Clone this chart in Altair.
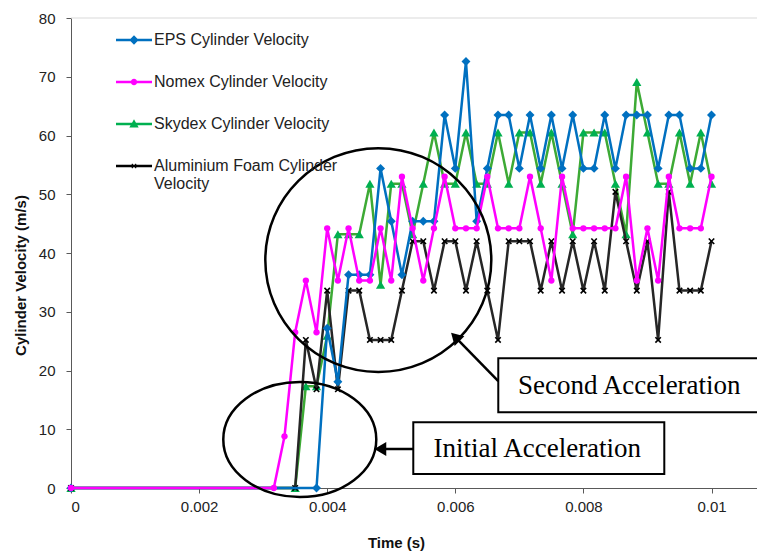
import altair as alt
import pandas as pd

# ---------------- data ----------------
FRAME_DT = 1.0 / 6000.0   # camera frame interval (s)

EPS_FRAMES = [0, 23, 24, 25, 26, 27, 28, 29, 30, 31, 32, 33, 34, 35, 36, 37, 38, 39, 40,
              41, 42, 43, 44, 45, 46, 47, 48, 49, 50, 51, 52, 53, 54, 55, 56, 57, 58, 59, 60]
EPS_V = [0, 0, 27.2, 18.1, 36.3, 36.3, 36.3, 54.4, 45.4, 36.3, 45.4, 45.4, 45.4, 63.5, 54.4,
         72.6, 45.4, 54.4, 63.5, 63.5, 54.4, 63.5, 54.4, 63.5, 54.4, 63.5, 54.4, 54.4, 63.5,
         54.4, 63.5, 63.5, 63.5, 54.4, 63.5, 63.5, 54.4, 54.4, 63.5]

NOMEX_FRAMES = [0, 19, 20, 21, 22, 23, 24, 25, 26, 27, 28, 29, 30, 31, 32, 33, 34, 35, 36, 37,
                38, 39, 40, 41, 42, 43, 44, 45, 46, 47, 48, 49, 50, 51, 52, 53, 54, 55, 56, 57,
                58, 59, 60]
NOMEX_V = [0, 0, 8.8, 26.5, 35.3, 26.5, 44.2, 35.3, 44.2, 35.3, 35.3, 44.2, 35.3, 53.0, 44.2,
           35.3, 44.2, 53.0, 44.2, 44.2, 44.2, 53.0, 44.2, 44.2, 44.2, 53.0, 44.2, 35.3, 53.0,
           44.2, 44.2, 44.2, 44.2, 44.2, 53.0, 35.3, 44.2, 35.3, 53.0, 44.2, 44.2, 44.2, 53.0]

SKYDEX_FRAMES = [0, 21, 22, 23, 24, 25, 26, 27, 28, 29, 30, 31, 32, 33, 34, 35, 36, 37, 38, 39,
                 40, 41, 42, 43, 44, 45, 46, 47, 48, 49, 50, 51, 52, 53, 54, 55, 56, 57, 58, 59, 60]
SKYDEX_V = [0, 0, 17.3, 17.3, 25.9, 43.2, 43.2, 43.2, 51.8, 34.6, 51.8, 51.8, 43.2, 51.8, 60.5,
            51.8, 51.8, 60.5, 51.8, 51.8, 60.5, 51.8, 60.5, 60.5, 51.8, 60.5, 51.8, 43.2, 60.5,
            60.5, 60.5, 51.8, 43.2, 69.1, 60.5, 51.8, 51.8, 60.5, 51.8, 60.5, 51.8]

ALU_FRAMES = [0, 21, 22, 23, 24, 25, 26, 27, 28, 29, 30, 31, 32, 33, 34, 35, 36, 37, 38, 39,
              40, 41, 42, 43, 44, 45, 46, 47, 48, 49, 50, 51, 52, 53, 54, 55, 56, 57, 58, 59, 60]
ALU_V = [0, 0, 25.2, 16.8, 33.6, 16.8, 33.6, 33.6, 25.2, 25.2, 25.2, 33.6, 42.0, 42.0, 33.6,
         42.0, 42.0, 33.6, 42.0, 33.6, 25.2, 42.0, 42.0, 42.0, 33.6, 42.0, 33.6, 42.0, 33.6,
         42.0, 33.6, 50.4, 42.0, 33.6, 42.0, 25.2, 50.4, 33.6, 33.6, 33.6, 42.0]

SERIES = ["EPS Cylinder Velocity", "Nomex Cylinder Velocity",
          "Skydex Cylinder Velocity", "Aluminium Foam Cylinder Velocity"]
LINE_COLORS = ["#0070C0", "#FF00FF", "#3DAA35", "#262626"]
MARK_COLORS = ["#0070C0", "#FF00FF", "#00B050", "#000000"]

X_TICKS = [0, 0.002, 0.004, 0.006, 0.008, 0.01]
Y_TICKS = [0, 10, 20, 30, 40, 50, 60, 70, 80]

# annotations (data coordinates: time, velocity)
ELLIPSE_T = [0.004798, 0.003572]
ELLIPSE_V = [38.8, 8.26]
BOX_T = [0.006671, 0.005344]
BOX_T2 = [0.0112, 0.009263]
BOX_V = [22.1, 11.2]
BOX_V2 = [12.9, 2.4]
BOX_TEXT = ["Second Acceleration", "Initial Acceleration"]
TEXT_T = [0.008716, 0.007280]
TEXT_V = [17.4, 6.6]
ARROW_T = [0.006671, 0.005344]
ARROW_V = [18.2, 6.64]
ARROW_T2 = [0.006000, 0.004829]
ARROW_V2 = [25.7, 6.64]
ARROW_ANGLE = [315, 270]

# ---------------- geometry / styling ----------------
W, H = 686, 470
X_MAX = W / 64050.0
FONT = "Liberation Sans"

def sdf(frames, values, name):
    return pd.DataFrame({"t": [f * FRAME_DT for f in frames], "v": values, "series": name})

dfs = [sdf(EPS_FRAMES, EPS_V, SERIES[0]), sdf(NOMEX_FRAMES, NOMEX_V, SERIES[1]),
       sdf(SKYDEX_FRAMES, SKYDEX_V, SERIES[2]), sdf(ALU_FRAMES, ALU_V, SERIES[3])]

xenc = alt.X("t:Q", scale=alt.Scale(domain=[0, X_MAX], nice=False, zero=False),
             axis=alt.Axis(values=X_TICKS, labelExpr="format(datum.value, '~g')",
                           title="Time (s)", grid=False, tickSize=5, labelPadding=6,
                           domainColor="#595959", tickColor="#595959", labelColor="#222222",
                           labelFont=FONT, labelFontSize=15, titleFont=FONT, titleFontSize=15,
                           titleFontWeight="bold", titleColor="#111111",
                           titleX=325, titleY=54, titleAlign="center", titleBaseline="middle"))
yenc = alt.Y("v:Q", scale=alt.Scale(domain=[0, 80], nice=False),
             axis=alt.Axis(values=Y_TICKS, title="Cylinder Velocity (m/s)", grid=False,
                           tickSize=5, labelPadding=11, domainColor="#595959",
                           tickColor="#595959", labelColor="#222222", labelFont=FONT,
                           labelFontSize=15, titleFont=FONT, titleFontSize=15,
                           titleFontWeight="bold", titleColor="#111111", titleAngle=270,
                           titleX=-51, titleY=257, titleAlign="center", titleBaseline="middle"))

XPATH = "M-1,-1L1,1M-1,1L1,-1"
MARK_SHAPES = ["diamond", "circle", "triangle-up", XPATH]
MARK_SIZES = [80, 40, 85, 30]

# legend symbols: a line segment with the marker in the middle (unit square, 1 unit = 18px)
LEG_PATHS = [
    "M-1,-0.07H1V0.07H-1ZM0,-0.26L0.26,0L0,0.26L-0.26,0Z",
    "M-1,-0.07H1V0.07H-1ZM-0.18,0A0.18,0.18 0 1,1 0.18,0A0.18,0.18 0 1,1 -0.18,0Z",
    "M-1,-0.07H1V0.07H-1ZM0,-0.26L0.26,0.2L-0.26,0.2Z",
    "M-1,-0.07H1V0.07H-1ZM-0.14,-0.1L-0.1,-0.14L0.14,0.1L0.1,0.14ZM0.1,-0.14L0.14,-0.1L-0.1,0.14L-0.14,0.1Z",
]

layers = []
# light top border of the plot area
layers.append(alt.Chart(pd.DataFrame({"v": [80]})).mark_rule(color="#D9D9D9", strokeWidth=1)
              .encode(y=alt.Y("v:Q")))

draw_order = [2, 3, 0, 1]
for i in draw_order:
    base = alt.Chart(dfs[i])
    layers.append(base.mark_line(color=LINE_COLORS[i], strokeWidth=2.5).encode(x=xenc, y=yenc))
    if MARK_SHAPES[i] == XPATH:
        layers.append(base.mark_point(shape=XPATH, filled=False, color=MARK_COLORS[i],
                                      strokeWidth=1.6, size=MARK_SIZES[i], opacity=1)
                      .encode(x=xenc, y=yenc))
    else:
        layers.append(base.mark_point(shape=MARK_SHAPES[i], filled=True, color=MARK_COLORS[i],
                                      size=MARK_SIZES[i], opacity=1)
                      .encode(x=xenc, y=yenc))

# legend-only layer (no rows drawn)
leg_df = pd.DataFrame({"t": [0] * 4, "v": [0] * 4, "series": SERIES})
leg = alt.Legend(orient="none", legendX=45, legendY=4, title=None, padding=0,
                 rowPadding=16, labelOffset=2, symbolSize=1296, symbolStrokeWidth=0,
                 labelFont=FONT, labelFontSize=16, labelColor="#222222", labelLimit=0,
                 direction="vertical",
                 labelExpr="datum.label == 'Aluminium Foam Cylinder Velocity' ? "
                           "['Aluminium Foam Cylinder', 'Velocity'] : datum.label")
layers.append(alt.Chart(leg_df).transform_filter("datum.v > 1")
              .mark_point(filled=True, size=1296, opacity=1)
              .encode(x=xenc, y=yenc,
                      shape=alt.Shape("series:N", scale=alt.Scale(domain=SERIES, range=LEG_PATHS),
                                      legend=leg),
                      color=alt.Color("series:N", scale=alt.Scale(domain=SERIES, range=MARK_COLORS),
                                      legend=leg)))

# annotations
ell_shapes = ["M-1,0A1,0.99 0 1,1 1,0A1,0.99 0 1,1 -1,0Z",
              "M-1,0A1,0.752 0 1,1 1,0A1,0.752 0 1,1 -1,0Z"]
ell_sizes = [226 ** 2, 153 ** 2]
for j in range(2):
    d = pd.DataFrame({"t": [ELLIPSE_T[j]], "v": [ELLIPSE_V[j]]})
    layers.append(alt.Chart(d).mark_point(shape=ell_shapes[j], size=ell_sizes[j], filled=False,
                                          color="black", strokeWidth=2.5, opacity=1)
                  .encode(x=xenc, y=yenc))

arr = pd.DataFrame({"t": ARROW_T, "v": ARROW_V, "t2": ARROW_T2, "v2": ARROW_V2,
                    "ang": ARROW_ANGLE})
layers.append(alt.Chart(arr).mark_rule(color="black", strokeWidth=2.5)
              .encode(x=xenc, y=yenc, x2="t2:Q", y2="v2:Q"))
layers.append(alt.Chart(arr).mark_point(shape="triangle-up", filled=True, color="black",
                                        size=190, opacity=1)
              .encode(x=alt.X("t2:Q"), y=alt.Y("v2:Q"), angle=alt.Angle("ang:Q", scale=None)))

box = pd.DataFrame({"t": BOX_T, "t2": BOX_T2, "v": BOX_V, "v2": BOX_V2})
layers.append(alt.Chart(box).mark_rect(fill="white", stroke="black", strokeWidth=2, clip=True)
              .encode(x=xenc, x2="t2:Q", y=yenc, y2="v2:Q"))
txt = pd.DataFrame({"t": TEXT_T, "v": TEXT_V, "label": BOX_TEXT})
layers.append(alt.Chart(txt).mark_text(font="Liberation Serif", fontSize=27, color="black",
                                       align="center", baseline="middle")
              .encode(x=xenc, y=yenc, text="label:N"))

chart = (alt.layer(*layers)
         .properties(width=W, height=H,
                     autosize=alt.AutoSizeParams(type="none"),
                     padding={"left": 63, "top": 10, "right": 0, "bottom": 63},
                     background="white")
         .configure_view(stroke=None))

chart.save("out.html", embed_options={"renderer": "svg", "actions": False})
